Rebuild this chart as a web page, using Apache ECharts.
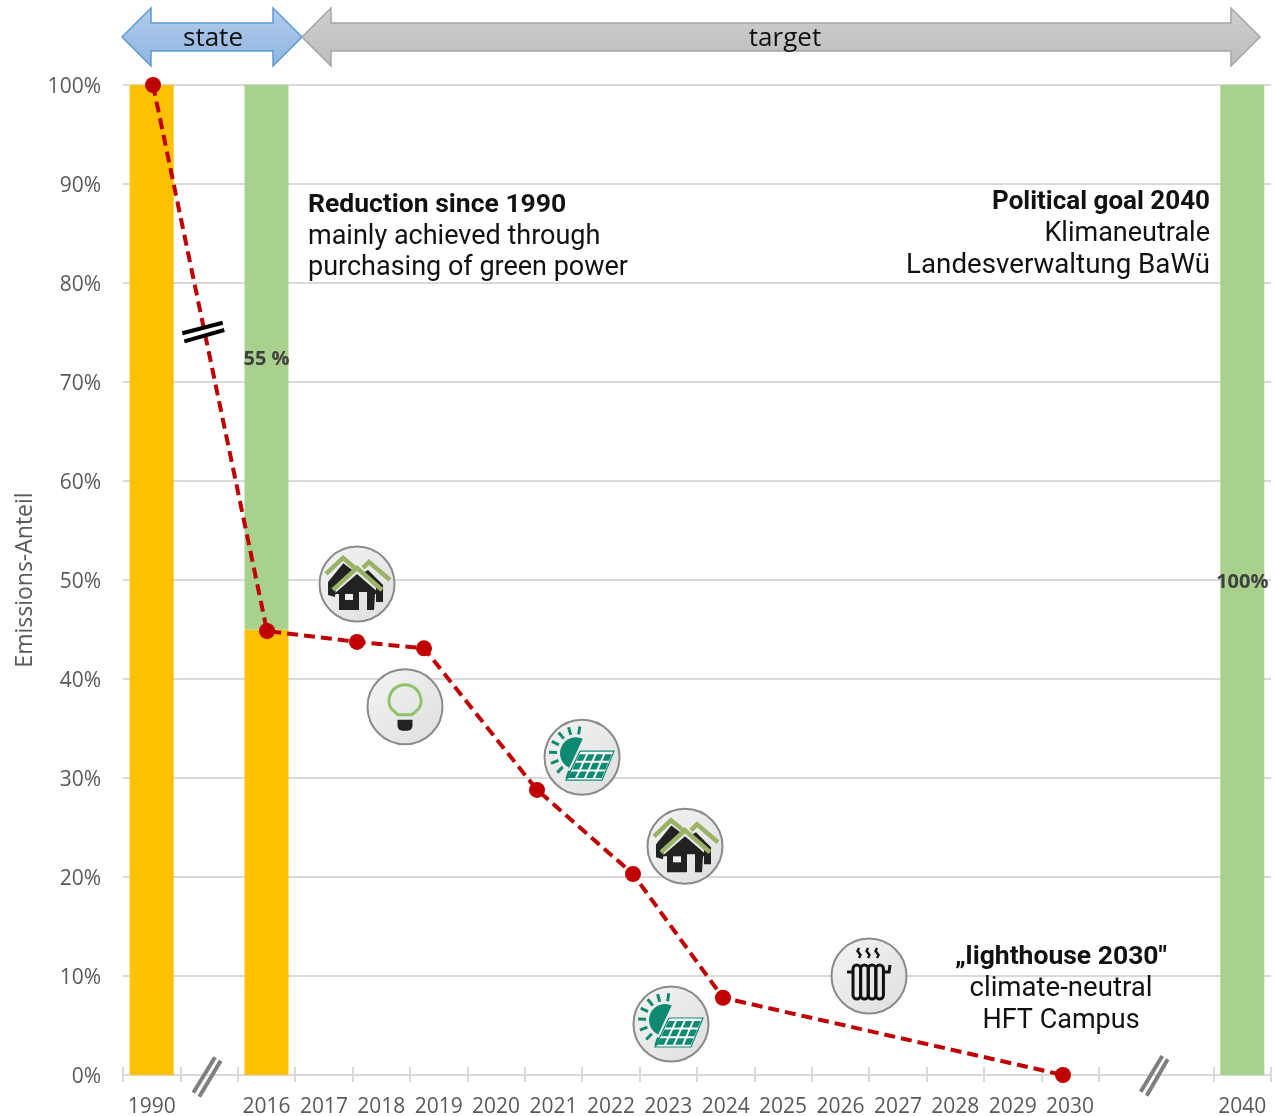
<!DOCTYPE html>
<html>
<head>
<meta charset="utf-8">
<style>html,body{margin:0;padding:0;background:#fff}#chart{width:1278px;height:1116px}</style>
<script src="https://cdn.jsdelivr.net/npm/echarts@6/dist/echarts.min.js"></script>
</head>
<body>
<div id="chart"></div>
<script>
// Category slots along the time axis; blank slots are the skipped years.
const categories = ['1990', '', '2016', '2017', '2018', '2019', '2020', '2021', '2022', '2023',
  '2024', '2025', '2026', '2027', '2028', '2029', '2030', '', '', '2040'];
const tickLabelsY = ['0%', '10%', '20%', '30%', '40%', '50%', '60%', '70%', '80%', '90%', '100%'];

// Stacked columns, percent of 1990 emissions.
const emittedShare = [100, null, 45, null, null, null, null, null, null, null, null, null, null, null, null, null, null, null, null, null];
const reducedShare = [null, null, 55, null, null, null, null, null, null, null, null, null, null, null, null, null, null, null, null, 100];
const reducedLabels = { 2: '55 %', 19: '100%' };

// Reduction path: position in slot units from the left axis end, and percent.
const pathSlots = [0.523, 2.509, 4.077, 5.244, 7.213, 8.885, 10.453, 16.376];
const pathShare = [100, 44.85, 43.75, 43.1, 28.8, 20.3, 7.8, 0];

// Measure icons, in the same slot / percent units as the path.
const iconKinds = ['house', 'bulb', 'solar', 'house', 'solar', 'radiator'];
const iconSlots = [4.077, 4.913, 7.997, 9.791, 9.547, 12.997];
const iconShare = [49.6, 37.2, 32.1, 23.1, 5.15, 10];

const labelFont = '"Open Sans", sans-serif';
const noteFont = 'Roboto, "Open Sans", sans-serif';
const grey = '#d9d9d9';
const teal = '#0f8a72';
const leaf = '#9bb365';
const ink = '#222222';

function line(x1, y1, x2, y2, color, width) {
  return { type: 'line', shape: { x1, y1, x2, y2 }, style: { stroke: color, lineWidth: width, fill: null } };
}
function poly(points, fill) {
  return { type: 'polygon', shape: { points }, style: { fill } };
}
function trail(points, color, width) {
  return { type: 'polyline', shape: { points }, style: { stroke: color, lineWidth: width, fill: null, lineJoin: 'miter' } };
}

const glyphs = {
  house() {
    return [
      poly([[-13.7, -20.7], [-2, -12], [-21, 4], [-22, 13], [-29, 11], [-29, -2]], ink),
      poly([[11, -14], [26, 1], [26, 18], [19, 18], [19, 3], [6, -11]], ink),
      poly([[0, -10], [23, 10], [18, 10], [17, 26], [10, 26], [10, 8], [2, 8], [2, 26], [-18, 26], [-18, 10], [-23, 10]], ink),
      { type: 'rect', shape: { x: -12, y: 10, width: 8, height: 6 }, style: { fill: '#eeeeee' } },
      trail([[-31, -10], [-14, -26], [-2, -16]], leaf, 4.5),
      trail([[-24, 6], [0, -16], [25, 6]], leaf, 4.5),
      trail([[6, -16], [12, -22], [33, -4]], leaf, 4.5)
    ];
  },
  bulb() {
    return [
      { type: 'arc', shape: { cx: 0, cy: -6, r: 16, startAngle: Math.PI * 5 / 6, endAngle: Math.PI * 13 / 6, clockwise: true },
        style: { stroke: '#8fc36b', lineWidth: 3, fill: null } },
      trail([[-13.9, 2], [-7, 8], [7, 8], [13.9, 2]], '#8fc36b', 3),
      { type: 'rect', shape: { x: -7.5, y: 13, width: 15, height: 11, r: [0, 0, 5, 5] }, style: { fill: ink } }
    ];
  },
  solar() {
    const parts = [
      { type: 'sector', shape: { cx: -6, cy: -4, r: 16, r0: 0, startAngle: 115 * Math.PI / 180, endAngle: 295 * Math.PI / 180, clockwise: true },
        style: { fill: teal } },
      poly([[-2, -6], [32, -6], [20, 23], [-16, 23]], '#ffffff'),
      trail([[-2, -6], [32, -6], [20, 23], [-16, 23], [-2, -6]], teal, 1.2)
    ];
    for (let deg = 110; deg <= 300; deg += 24) {
      const a = deg * Math.PI / 180;
      parts.push(line(-6 + 19 * Math.cos(a), -4 + 19 * Math.sin(a), -6 + 27 * Math.cos(a), -4 + 27 * Math.sin(a), teal, 3));
    }
    for (let row = 0; row < 3; row++) {
      for (let col = 0; col < 4; col++) {
        const y0 = -3 + row * 8.6;
        const y1 = y0 + 6.6;
        const at = (u, y) => {
          const t = (y + 6) / 29;
          const left = -2 - 14 * t;
          const right = 32 - 12 * t;
          return [left + (right - left) * u, y];
        };
        const u0 = (col + 0.12) / 4;
        const u1 = (col + 0.88) / 4;
        parts.push(poly([at(u0, y0), at(u1, y0), at(u1, y1), at(u0, y1)], teal));
      }
    }
    return parts;
  },
  radiator() {
    const parts = [];
    for (let i = 0; i < 4; i++) {
      parts.push({ type: 'rect', shape: { x: -16 + i * 7.6, y: -11, width: 7.6, height: 34, r: 3.8 },
        style: { stroke: '#111111', lineWidth: 3, fill: 'rgba(0,0,0,0)' } });
    }
    parts.push(line(-22, -4, -16, -4, '#111111', 3));
    parts.push(trail([[14, -4], [20, -4], [21, -11]], '#111111', 3));
    [-10, -1, 8].forEach(x => {
      parts.push(trail([[x, -28], [x - 1.5, -25], [x + 1.5, -21], [x, -18]], '#111111', 2.4));
    });
    return parts;
  }
};

// Icon badge: shaded disc with a grey rim and the glyph for the measure.
function renderIcon(params, api) {
  const at = api.coord([api.value(0), api.value(1)]);
  const kind = iconKinds[params.dataIndex];
  return {
    type: 'group', x: at[0], y: at[1],
    children: [
      { type: 'circle', shape: { cx: 0, cy: 0, r: 37.5 },
        style: { stroke: '#8a8a8a', lineWidth: 2,
          fill: new echarts.graphic.LinearGradient(0, 0, 1, 1, [
            { offset: 0, color: '#f4f4f4' }, { offset: 1, color: '#dedede' }]) } }
    ].concat(glyphs[kind]())
  };
}

const chart = echarts.init(document.getElementById('chart'));

function note(x, y, text, align, bold, size) {
  return { type: 'text', x, y, z: 20,
    style: { text, textAlign: align, textVerticalAlign: 'middle', fill: '#111111',
      font: (bold ? 'bold ' : '') + size + 'px ' + noteFont } };
}
function blockArrow(points, stops, stroke) {
  return { type: 'polygon', z: 15, shape: { points },
    style: { stroke, lineWidth: 1.5,
      fill: new echarts.graphic.LinearGradient(0, 0, 0, 1, stops) } };
}
function breakMark(x1, y1, x2, y2, color, width) {
  return { type: 'line', z: 18, shape: { x1, y1, x2, y2 }, style: { stroke: color, lineWidth: width } };
}

chart.setOption({
  animation: false,
  backgroundColor: '#ffffff',
  grid: { left: 123, right: 7, top: 85, bottom: 41, outerBoundsMode: 'none' },
  xAxis: [
    { type: 'category', data: categories, boundaryGap: true,
      axisLine: { lineStyle: { color: grey, width: 2 } },
      axisTick: { show: true, length: 7, alignWithLabel: false, interval: i => i !== 18, lineStyle: { color: grey, width: 2 } },
      axisLabel: { interval: 0, margin: 22, color: '#595959', fontFamily: labelFont, fontSize: 21 },
      splitLine: { show: false } },
    { type: 'value', min: 0, max: 100 / 5, show: false },
    { type: 'category', data: categories, position: 'bottom', boundaryGap: true,
      axisLine: { show: false },
      axisTick: { show: true, inside: true, length: 8, interval: i => i !== 18, lineStyle: { color: grey, width: 2 } },
      axisLabel: { show: false }, splitLine: { show: false } }
  ],
  yAxis: {
    type: 'value', min: 0, max: 100, interval: 10,
    name: 'Emissions-Anteil', nameLocation: 'middle', nameGap: 85, nameRotate: 90,
    nameTextStyle: { color: '#595959', fontFamily: labelFont, fontSize: 23 },
    axisLine: { show: false }, axisTick: { show: false },
    axisLabel: { margin: 22,
      rich: { tick: { color: '#595959', fontFamily: labelFont, fontSize: 21, padding: [4, 0, 0, 0] } },
      formatter: v => '{tick|' + tickLabelsY[Math.round(v / 10)] + '}' },
    splitLine: { lineStyle: { color: grey, width: 2 } }
  },
  series: [
    { type: 'bar', name: 'emitted', stack: 'share', barWidth: 44, xAxisIndex: 0, data: emittedShare,
      itemStyle: { color: '#ffc000' } },
    { type: 'bar', name: 'reduced', stack: 'share', barWidth: 44, xAxisIndex: 0, data: reducedShare,
      itemStyle: { color: '#a9d18e' },
      label: { show: true, position: 'inside', offset: [0, 2], color: '#404040', fontFamily: labelFont, fontWeight: 'bold', fontSize: 20,
        formatter: p => reducedLabels[p.dataIndex] || '' } },
    { type: 'custom', name: 'measures', xAxisIndex: 1, clip: false, z: 6,
      data: iconSlots.map((s, i) => [s, iconShare[i]]), renderItem: renderIcon },
    { type: 'line', name: 'path', xAxisIndex: 1, z: 8, clip: false,
      data: pathSlots.map((s, i) => [s, pathShare[i]]),
      symbol: 'circle', symbolSize: 16,
      itemStyle: { color: '#c00000' },
      lineStyle: { color: '#c00000', width: 4, type: [11, 6] } }
  ],
  graphic: [
    blockArrow([[122, 37], [151, 8], [151, 23], [273, 23], [273, 8], [302, 37], [273, 66], [273, 51], [151, 51], [151, 66]],
      [{ offset: 0, color: '#b4cce9' }, { offset: 1, color: '#8fb5e2' }], '#5b9bd5'),
    blockArrow([[302, 37], [331, 8], [331, 23], [1231, 23], [1231, 8], [1260, 37], [1231, 66], [1231, 51], [331, 51], [331, 66]],
      [{ offset: 0, color: '#cfcfcf' }, { offset: 1, color: '#bcbcbc' }], '#a5a5a5'),
    { type: 'text', x: 213, y: 39, z: 20, style: { text: 'state', textAlign: 'center', textVerticalAlign: 'middle', fill: '#111111', font: '26px ' + labelFont } },
    { type: 'text', x: 785, y: 39, z: 20, style: { text: 'target', textAlign: 'center', textVerticalAlign: 'middle', fill: '#111111', font: '26px ' + labelFont } },

    note(308, 205, 'Reduction since 1990', 'left', true, 26.5),
    note(308, 237, 'mainly achieved through', 'left', false, 27),
    note(308, 268, 'purchasing of green power', 'left', false, 27),
    note(1210, 202, 'Political goal 2040', 'right', true, 26),
    note(1210, 234, 'Klimaneutrale', 'right', false, 27),
    note(1210, 266, 'Landesverwaltung BaWü', 'right', false, 27.7),
    note(1061, 957, '„lighthouse 2030"', 'center', true, 26.5),
    note(1061, 989, 'climate-neutral', 'center', false, 27.6),
    note(1061, 1021, 'HFT Campus', 'center', false, 27),

    breakMark(182.3, 333.3, 222.7, 322.7, '#000000', 4),
    breakMark(184.3, 341.3, 224.3, 330, '#000000', 4),
    breakMark(193.3, 1092.7, 215, 1057.3, '#7f7f7f', 4),
    breakMark(199.3, 1096.7, 220.7, 1060.7, '#7f7f7f', 4),
    breakMark(1140.7, 1091.7, 1162.3, 1056, '#7f7f7f', 4),
    breakMark(1146.7, 1095.7, 1167.7, 1059.3, '#7f7f7f', 4)
  ]
});
</script>
</body>
</html>
